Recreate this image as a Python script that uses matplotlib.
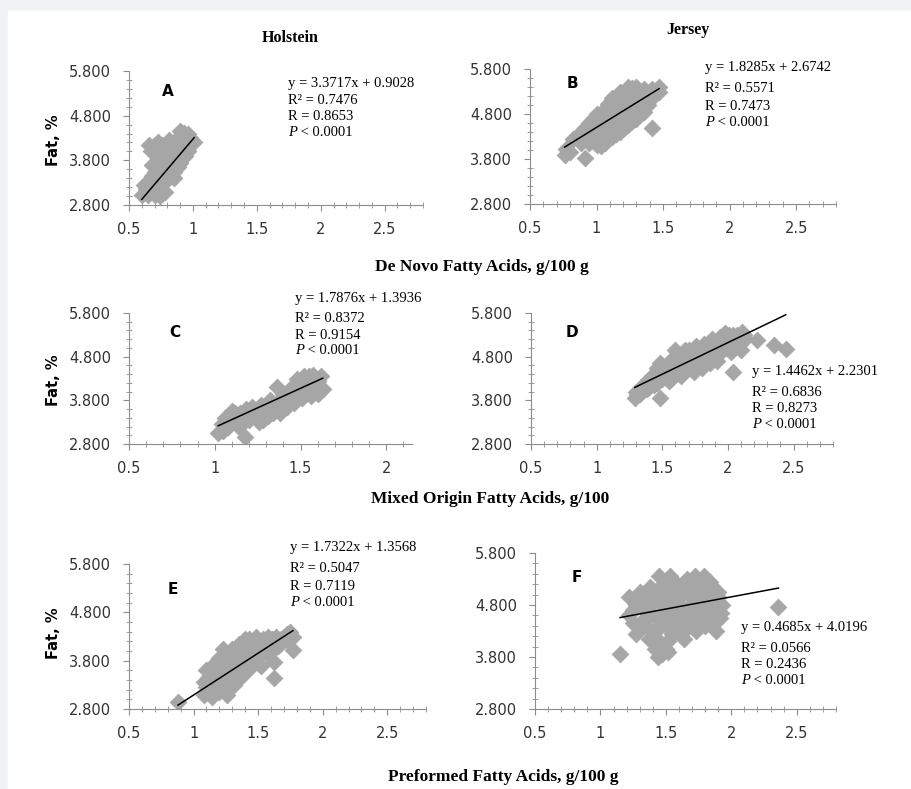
import matplotlib
matplotlib.use("Agg")
import matplotlib.pyplot as plt
import numpy as np
from matplotlib.patches import Rectangle
from matplotlib.ticker import MultipleLocator, FixedLocator, FormatStrFormatter, FuncFormatter

# data (x = fatty acids g/100 g, y = fat %)
a_x = [0.60, 0.65, 0.70, 0.74, 0.78, 0.65, 0.70, 0.75, 0.80, 0.70, 0.75, 0.80, 0.85,
       0.74, 0.80, 0.86, 0.90, 0.67, 0.72, 0.78, 0.84, 0.90, 0.96, 0.70, 0.76, 0.85,
       0.92, 0.98, 0.88, 0.93, 0.98, 1.01, 0.68, 0.62,
       0.63, 0.68, 0.72, 0.68, 0.73, 0.78, 0.77, 0.83, 0.88, 0.72, 0.77, 0.83, 0.88,
       0.94, 0.80, 0.88, 0.95, 0.73, 0.81, 0.90, 0.96, 0.66, 0.85, 0.75]
a_y = [3.03, 3.02, 3.03, 3.00, 3.10, 3.30, 3.30, 3.30, 3.35, 3.55, 3.55, 3.55, 3.55,
       3.80, 3.80, 3.80, 3.75, 4.00, 4.05, 4.00, 4.00, 3.95, 4.00, 4.15, 4.15, 4.20,
       4.20, 4.20, 4.30, 4.42, 4.30, 4.22, 3.70, 3.25,
       3.15, 3.15, 3.18, 3.45, 3.43, 3.45, 3.68, 3.68, 3.65, 3.90, 3.90, 3.90, 3.88,
       3.90, 4.10, 4.10, 4.12, 4.20, 4.25, 4.45, 4.40, 4.15, 3.40, 3.08]

b_x = [0.76, 0.77, 0.80, 0.91, 1.42, 0.82, 0.88, 0.88, 0.94, 0.94, 0.94,
       1.00, 1.00, 1.00, 1.00, 1.06, 1.06, 1.06, 1.06,
       1.12, 1.12, 1.12, 1.12, 1.12, 1.18, 1.18, 1.18, 1.18, 1.18,
       1.24, 1.24, 1.24, 1.24, 1.24, 1.30, 1.30, 1.30, 1.30,
       1.36, 1.36, 1.36, 1.42, 1.42, 1.47, 1.47,
       0.85, 0.91, 0.91, 0.97, 0.97, 0.97, 1.03, 1.03, 1.03, 1.09, 1.09, 1.09, 1.09,
       1.15, 1.15, 1.15, 1.15, 1.21, 1.21, 1.21, 1.21, 1.27, 1.27, 1.27, 1.27,
       1.33, 1.33, 1.33, 1.39, 1.39, 1.44, 1.03]
b_y = [3.88, 4.02, 3.95, 3.83, 4.50, 4.25, 4.15, 4.40, 4.15, 4.40, 4.60,
       4.12, 4.35, 4.60, 4.80, 4.15, 4.40, 4.65, 4.90,
       4.28, 4.50, 4.75, 5.00, 5.15, 4.40, 4.65, 4.90, 5.15, 5.30,
       4.55, 4.80, 5.05, 5.30, 5.40, 4.70, 4.95, 5.20, 5.40,
       4.85, 5.10, 5.35, 5.15, 5.35, 5.30, 5.40,
       4.30, 4.28, 4.50, 4.25, 4.50, 4.70, 4.25, 4.50, 4.72, 4.30, 4.55, 4.80, 5.02,
       4.35, 4.60, 4.85, 5.10, 4.50, 4.75, 5.00, 5.25, 4.65, 4.90, 5.15, 5.38,
       4.80, 5.05, 5.30, 5.00, 5.25, 5.25, 4.10]

c_x = [1.02, 1.04, 1.06, 1.08, 1.10, 1.12, 1.15, 1.14, 1.175, 1.18, 1.20, 1.22,
       1.24, 1.27, 1.28, 1.30, 1.32, 1.34, 1.36, 1.37, 1.40, 1.40, 1.43, 1.45,
       1.47, 1.48, 1.50, 1.52, 1.53, 1.55, 1.57, 1.58, 1.60, 1.62, 1.63, 1.60,
       1.05, 1.09, 1.12, 1.17, 1.21, 1.25, 1.26, 1.31, 1.33, 1.38, 1.39, 1.42,
       1.44, 1.46, 1.49, 1.51, 1.54, 1.56, 1.58, 1.61, 1.55, 1.45, 1.29]
c_y = [3.05, 3.25, 3.40, 3.20, 3.55, 3.35, 3.50, 3.20, 2.95, 3.60, 3.35, 3.65,
       3.45, 3.70, 3.35, 3.55, 3.80, 3.50, 4.10, 3.75, 3.60, 3.95, 3.80, 4.10,
       3.90, 4.30, 4.05, 4.35, 3.95, 4.20, 4.38, 4.00, 4.25, 4.35, 4.05, 3.95,
       3.10, 3.30, 3.50, 3.35, 3.50, 3.60, 3.30, 3.45, 3.65, 3.50, 3.85, 3.65,
       3.95, 3.75, 4.15, 3.85, 4.10, 3.90, 4.20, 4.10, 4.35, 3.95, 3.62]

d_x = [1.29, 1.30, 1.33, 1.35, 1.38, 1.40, 1.42, 1.44, 1.48, 1.47, 1.48, 1.50,
       1.53, 1.55, 1.56, 1.58, 1.60, 1.62, 1.64, 1.66, 1.68, 1.70, 1.72, 1.74,
       1.76, 1.78, 1.80, 1.82, 1.84, 1.86, 1.88, 1.90, 1.92, 1.94, 1.96, 1.98,
       2.00, 2.02, 2.04, 2.04, 2.06, 2.08, 2.10, 2.12, 2.22, 2.35, 2.44,
       1.31, 1.34, 1.37, 1.40, 1.43, 1.46, 1.46, 1.50, 1.52, 1.55, 1.57, 1.59,
       1.61, 1.63, 1.65, 1.67, 1.69, 1.71, 1.73, 1.75, 1.77, 1.79, 1.81, 1.83,
       1.85, 1.87, 1.89, 1.91, 1.93, 1.95, 1.97, 1.99, 2.01, 2.03, 2.07, 2.09,
       2.13, 2.11]
d_y = [3.85, 4.00, 3.95, 4.10, 4.05, 4.20, 4.35, 4.15, 3.85, 4.45, 4.65, 4.30,
       4.50, 4.25, 4.70, 4.40, 4.95, 4.60, 4.35, 4.80, 4.50, 4.95, 4.65, 4.45,
       5.05, 4.80, 4.55, 5.10, 4.90, 4.65, 5.20, 4.95, 4.70, 5.25, 5.05, 5.35,
       5.15, 4.90, 5.30, 4.45, 5.05, 5.20, 4.95, 5.30, 5.18, 5.07, 4.97,
       3.92, 4.05, 4.20, 4.10, 4.25, 4.20, 4.55, 4.50, 4.35, 4.55, 4.30, 4.75,
       4.45, 4.80, 4.60, 4.95, 4.70, 4.55, 4.85, 4.65, 4.95, 4.70, 4.95, 4.70,
       5.00, 4.80, 5.05, 4.85, 5.10, 4.90, 5.20, 5.00, 5.30, 5.10, 5.30, 5.10,
       5.20, 5.36]

e_x = [0.88, 1.08, 1.08, 1.10, 1.12, 1.13, 1.14, 1.17, 1.18, 1.20, 1.22, 1.23,
       1.24, 1.26, 1.27, 1.28, 1.30, 1.31, 1.33, 1.35, 1.36, 1.38, 1.40, 1.42,
       1.44, 1.46, 1.48, 1.50, 1.52, 1.54, 1.56, 1.58, 1.60, 1.62, 1.62, 1.64,
       1.67, 1.70, 1.73, 1.75, 1.77,
       1.10, 1.15, 1.11, 1.16, 1.19, 1.21, 1.25, 1.26, 1.29, 1.30, 1.32, 1.34,
       1.37, 1.37, 1.40, 1.41, 1.43, 1.45, 1.47, 1.49, 1.51, 1.53, 1.55, 1.57,
       1.59, 1.61, 1.65, 1.68, 1.72, 1.77, 1.14, 1.20, 1.23]
e_y = [2.95, 3.10, 3.35, 3.60, 3.15, 3.45, 3.70, 3.25, 3.55, 3.85, 3.35, 4.05,
       3.65, 3.10, 3.45, 3.85, 4.05, 3.30, 3.65, 4.15, 3.45, 3.90, 4.25, 3.60,
       4.05, 3.80, 4.30, 4.00, 3.70, 4.25, 3.95, 4.30, 4.10, 3.77, 3.44, 4.30,
       4.15, 4.30, 4.20, 4.40, 4.02,
       3.25, 3.35, 3.45, 3.60, 3.40, 3.70, 3.50, 3.85, 3.25, 3.60, 3.90, 3.40,
       3.65, 4.10, 3.80, 4.05, 4.25, 3.90, 4.15, 3.85, 4.20, 3.95, 4.10, 4.20,
       3.95, 4.25, 4.10, 4.25, 4.35, 4.30, 3.05, 3.15, 3.25]

f_x = [1.15, 2.36, 1.22, 1.22, 1.27, 1.27, 1.30, 1.32, 1.35, 1.37, 1.38, 1.40,
       1.42, 1.43, 1.45, 1.45, 1.47, 1.48, 1.50, 1.52, 1.53, 1.55, 1.57, 1.58,
       1.60, 1.62, 1.64, 1.66, 1.67, 1.70, 1.72, 1.73, 1.75, 1.77, 1.79, 1.80,
       1.82, 1.85, 1.87, 1.90, 1.92, 1.88,
       1.25, 1.25, 1.30, 1.32, 1.33, 1.35, 1.37, 1.40, 1.40, 1.42, 1.44, 1.45,
       1.47, 1.48, 1.50, 1.50, 1.52, 1.53, 1.55, 1.55, 1.57, 1.58, 1.60, 1.61,
       1.62, 1.63, 1.65, 1.66, 1.68, 1.69, 1.70, 1.71, 1.73, 1.74, 1.76, 1.78,
       1.79, 1.81, 1.83, 1.84, 1.86, 1.89, 1.91, 1.90, 1.93, 1.52, 1.47, 1.44]
f_y = [3.85, 4.76, 4.95, 4.60, 4.25, 4.80, 5.05, 4.50, 4.85, 4.15, 5.15, 4.60,
       3.95, 4.90, 5.35, 4.35, 3.85, 4.70, 5.10, 4.10, 4.50, 4.90, 5.25, 4.30,
       4.65, 5.00, 4.15, 5.30, 4.50, 4.80, 5.35, 4.30, 5.10, 4.60, 5.35, 4.40,
       4.85, 5.15, 4.55, 4.95, 4.65, 4.30,
       4.70, 4.45, 4.35, 4.75, 4.95, 4.40, 4.60, 4.85, 4.30, 5.05, 4.55, 4.10,
       4.85, 5.20, 4.40, 3.95, 4.70, 5.35, 4.25, 4.55, 4.85, 5.05, 4.35, 4.80,
       4.55, 5.20, 4.70, 4.35, 5.00, 4.60, 5.25, 4.40, 4.95, 4.65, 5.20, 4.80,
       4.45, 5.05, 4.60, 5.25, 4.90, 4.70, 4.55, 5.05, 4.80, 3.90, 4.00, 3.80]

slopes = [3.3717, 1.8285, 1.7876, 1.4462, 1.7322, 0.4685]
intercepts = [0.9028, 2.6742, 1.3936, 2.2301, 1.3568, 4.0196]
r2 = ["0.7476", "0.5571", "0.8372", "0.6836", "0.5047", "0.0566"]
r = ["0.8653", "0.7473", "0.9154", "0.8273", "0.7119", "0.2436"]
letters = ["A", "B", "C", "D", "E", "F"]
xmax = [2.8, 2.8, 2.15, 2.8, 2.8, 2.8]
y_major = [2.8, 3.8, 4.8, 5.8]

W, H = 911, 789
fig = plt.figure(figsize=(W / 100, H / 100), dpi=100, facecolor='#f1f2f4')
fig.patches.append(Rectangle((8 / W, 0), (W - 8) / W, (H - 11) / H,
                             transform=fig.transFigure, color='white', zorder=-10))


def fx(px):
    return px / W


def fy(py):
    return 1 - py / H


# axes boxes in pixels: left, right, top, bottom
boxes = [(129, 423, 71, 205), (530, 836, 69, 204),
         (129, 412, 313, 444), (531, 833, 313, 444),
         (129, 426, 564, 709), (535, 836, 553, 709)]
letter_pos = [(168, 91), (572, 83), (175, 333), (572, 333), (173, 590), (577, 577)]
eq_pos = [(288, [83, 101, 117, 133]), (705, [68, 89, 106, 122]),
          (295, [298, 318, 335, 351]), (752, [372, 393, 409, 425]),
          (290, [548, 569, 586, 602]), (741, [627, 648, 665, 681])]

xs = [a_x, b_x, c_x, d_x, e_x, f_x]
ys = [a_y, b_y, c_y, d_y, e_y, f_y]

for i in range(6):
    l, rgt, t, b = boxes[i]
    ax = fig.add_axes([fx(l), fy(b), fx(rgt - l), (b - t) / H])
    ax.set_facecolor('none')
    ax.scatter(xs[i], ys[i], marker='D', s=72, color='#a6a6a6',
               edgecolors='#a6a6a6', linewidths=0.6, zorder=2)
    lx = np.linspace(min(xs[i]), max(xs[i]), 10)
    ax.plot(lx, slopes[i] * lx + intercepts[i], color='black', lw=1.1, zorder=3)
    ax.set_xlim(0.5, xmax[i])
    ax.set_ylim(2.8, 5.8)
    ax.xaxis.set_major_locator(MultipleLocator(0.5))
    ax.xaxis.set_minor_locator(MultipleLocator(0.1))
    ax.yaxis.set_major_locator(FixedLocator(y_major))
    ax.yaxis.set_minor_locator(FixedLocator(np.arange(2.8, 5.81, 0.2)))
    ax.yaxis.set_major_formatter(FormatStrFormatter('%.3f'))
    ax.xaxis.set_major_formatter(FuncFormatter(lambda v, p: '%g' % v))
    for s in ['top', 'right']:
        ax.spines[s].set_visible(False)
    for s in ['left', 'bottom']:
        ax.spines[s].set_color('#8c8c8c')
        ax.spines[s].set_linewidth(0.8)
    ax.tick_params(which='major', direction='out', length=4, width=0.8,
                   color='#8c8c8c', labelsize=10.5, labelcolor='#333333')
    ax.tick_params(which='minor', direction='inout', length=4, width=0.6, color='#8c8c8c')
    ax.tick_params(axis='y', which='major', pad=9)
    ax.tick_params(axis='x', which='major', pad=8)

    lx0, ly0 = letter_pos[i]
    fig.text(fx(lx0), fy(ly0), letters[i], ha='center', va='center',
             fontsize=11, fontweight='bold', family='DejaVu Sans')
    ex, eys = eq_pos[i]
    lines = ["y = %.4fx + %.4f" % (slopes[i], intercepts[i]),
             "R\u00b2 = " + r2[i], "R = " + r[i]]
    for k in range(3):
        fig.text(fx(ex), fy(eys[k]), lines[k], ha='left', va='center',
                 fontsize=10.5, family='Liberation Serif')
    fig.text(fx(ex), fy(eys[3]), "P", ha='left', va='center', fontsize=10.5,
             family='Liberation Serif', fontstyle='italic')
    fig.text(fx(ex + 9), fy(eys[3]), " < 0.0001", ha='left', va='center',
             fontsize=10.5, family='Liberation Serif')

# column titles
fig.text(fx(290), fy(38), "Holstein", ha='center', va='center',
         fontsize=11.5, fontweight='bold', family='Liberation Serif')
fig.text(fx(688), fy(30), "Jersey", ha='center', va='center',
         fontsize=11.5, fontweight='bold', family='Liberation Serif')

# row x-axis titles
fig.text(fx(482), fy(267), "De Novo Fatty Acids, g/100 g", ha='center', va='center',
         fontsize=12.5, fontweight='bold', family='Liberation Serif')
fig.text(fx(490), fy(499), "Mixed Origin Fatty Acids, g/100", ha='center', va='center',
         fontsize=12.5, fontweight='bold', family='Liberation Serif')
fig.text(fx(503), fy(777), "Preformed Fatty Acids, g/100 g", ha='center', va='center',
         fontsize=12.5, fontweight='bold', family='Liberation Serif')

# y titles
for yy in [140, 380, 633]:
    fig.text(fx(53), fy(yy), "Fat, %", ha='center', va='center', rotation=90,
             fontsize=10.5, fontweight='bold', family='DejaVu Sans')

fig.savefig("out.png", dpi=100, facecolor=fig.get_facecolor())
